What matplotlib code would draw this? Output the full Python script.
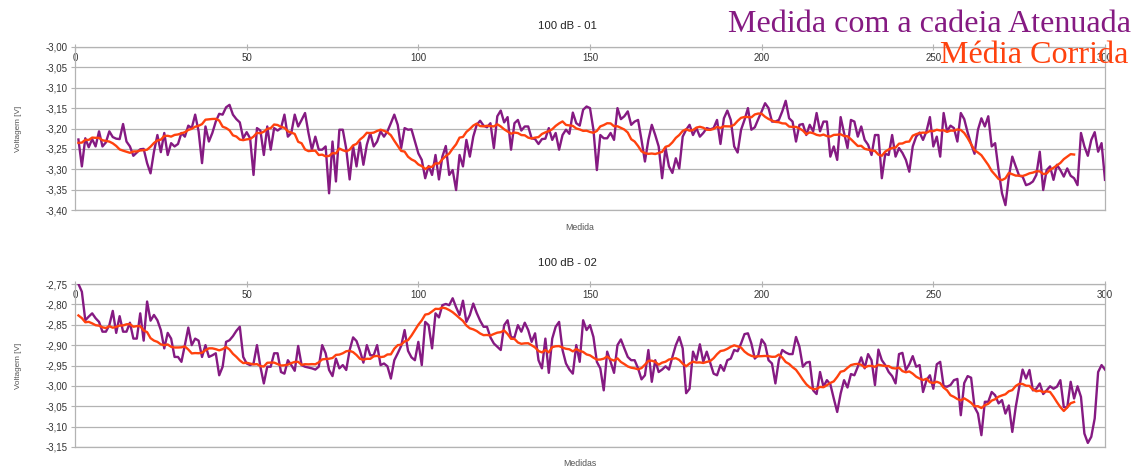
import numpy as np
import pandas as pd
import matplotlib
matplotlib.use("Agg")
import matplotlib.pyplot as plt
from matplotlib.ticker import FuncFormatter, MultipleLocator

plt.rcParams['font.family'] = ['Liberation Sans', 'DejaVu Sans']
plt.rcParams['axes.unicode_minus'] = False

# medidas 1..300, cadeia atenuada (100 dB)
medida = np.arange(1, 301)

v_01 = [
    -3.227, -3.293, -3.224, -3.246, -3.226, -3.244, -3.207, -3.244, -3.234, -3.207,
    -3.221, -3.225, -3.226, -3.189, -3.232, -3.244, -3.267, -3.259, -3.251, -3.250,
    -3.285, -3.310, -3.257, -3.216, -3.258, -3.211, -3.265, -3.236, -3.244, -3.238,
    -3.211, -3.220, -3.193, -3.199, -3.166, -3.207, -3.285, -3.195, -3.232, -3.211,
    -3.183, -3.164, -3.166, -3.148, -3.142, -3.166, -3.177, -3.185, -3.224, -3.209,
    -3.224, -3.314, -3.199, -3.205, -3.265, -3.195, -3.252, -3.199, -3.205, -3.199,
    -3.166, -3.220, -3.211, -3.166, -3.195, -3.179, -3.162, -3.211, -3.252, -3.220,
    -3.252, -3.252, -3.244, -3.359, -3.232, -3.330, -3.203, -3.203, -3.250, -3.325,
    -3.244, -3.293, -3.234, -3.289, -3.240, -3.211, -3.244, -3.232, -3.207, -3.220,
    -3.207, -3.187, -3.166, -3.191, -3.248, -3.199, -3.203, -3.202, -3.232, -3.261,
    -3.277, -3.322, -3.292, -3.314, -3.265, -3.325, -3.269, -3.243, -3.314, -3.302,
    -3.351, -3.265, -3.293, -3.228, -3.269, -3.220, -3.191, -3.181, -3.193, -3.197,
    -3.187, -3.248, -3.170, -3.156, -3.185, -3.172, -3.252, -3.187, -3.179, -3.205,
    -3.195, -3.195, -3.224, -3.226, -3.238, -3.226, -3.225, -3.199, -3.228, -3.211,
    -3.252, -3.216, -3.203, -3.213, -3.161, -3.187, -3.193, -3.154, -3.146, -3.150,
    -3.203, -3.302, -3.216, -3.224, -3.224, -3.211, -3.228, -3.150, -3.177, -3.170,
    -3.158, -3.191, -3.183, -3.179, -3.228, -3.281, -3.228, -3.191, -3.216, -3.244,
    -3.322, -3.248, -3.293, -3.309, -3.273, -3.298, -3.220, -3.203, -3.191, -3.216,
    -3.199, -3.220, -3.211, -3.199, -3.202, -3.199, -3.179, -3.238, -3.175, -3.156,
    -3.179, -3.244, -3.259, -3.203, -3.179, -3.150, -3.203, -3.197, -3.177, -3.158,
    -3.138, -3.150, -3.183, -3.183, -3.179, -3.158, -3.132, -3.175, -3.183, -3.232,
    -3.191, -3.189, -3.216, -3.191, -3.207, -3.162, -3.207, -3.183, -3.183, -3.269,
    -3.244, -3.277, -3.172, -3.211, -3.248, -3.179, -3.183, -3.220, -3.195, -3.228,
    -3.240, -3.265, -3.216, -3.216, -3.322, -3.262, -3.265, -3.216, -3.269, -3.248,
    -3.260, -3.277, -3.306, -3.244, -3.220, -3.210, -3.228, -3.207, -3.172, -3.244,
    -3.220, -3.269, -3.162, -3.207, -3.193, -3.199, -3.232, -3.162, -3.177, -3.210,
    -3.238, -3.262, -3.203, -3.175, -3.195, -3.170, -3.244, -3.236, -3.302, -3.359,
    -3.388, -3.318, -3.269, -3.293, -3.316, -3.318, -3.339, -3.336, -3.330, -3.314,
    -3.257, -3.351, -3.302, -3.293, -3.326, -3.289, -3.302, -3.318, -3.298, -3.316,
    -3.322, -3.339, -3.211, -3.244, -3.267, -3.228, -3.209, -3.257, -3.236, -3.326,
]

v_02 = [
    -2.750, -2.769, -2.839, -2.830, -2.822, -2.834, -2.843, -2.867, -2.867, -2.851,
    -2.816, -2.870, -2.829, -2.867, -2.867, -2.845, -2.884, -2.884, -2.822, -2.889,
    -2.793, -2.840, -2.826, -2.839, -2.863, -2.908, -2.870, -2.884, -2.929, -2.929,
    -2.941, -2.900, -2.857, -2.900, -2.884, -2.889, -2.929, -2.900, -2.929, -2.925,
    -2.920, -2.974, -2.953, -2.892, -2.888, -2.878, -2.865, -2.855, -2.929, -2.945,
    -2.949, -2.945, -2.900, -2.953, -2.994, -2.953, -2.953, -2.920, -2.920, -2.966,
    -2.970, -2.937, -2.949, -2.963, -2.902, -2.949, -2.953, -2.955, -2.957, -2.960,
    -2.953, -2.900, -2.920, -2.961, -2.976, -2.933, -2.957, -2.949, -2.961, -2.912,
    -2.881, -2.890, -2.914, -2.943, -2.900, -2.925, -2.925, -2.900, -2.949, -2.945,
    -2.952, -2.982, -2.937, -2.920, -2.902, -2.863, -2.914, -2.930, -2.937, -2.892,
    -2.949, -2.843, -2.851, -2.908, -2.822, -2.832, -2.802, -2.799, -2.802, -2.785,
    -2.807, -2.826, -2.791, -2.843, -2.826, -2.798, -2.821, -2.840, -2.855, -2.855,
    -2.881, -2.896, -2.904, -2.912, -2.851, -2.839, -2.881, -2.881, -2.851, -2.867,
    -2.845, -2.863, -2.892, -2.871, -2.937, -2.957, -2.884, -2.968, -2.884, -2.855,
    -2.843, -2.912, -2.945, -2.960, -2.970, -2.900, -2.941, -2.839, -2.863, -2.851,
    -2.880, -2.941, -2.957, -3.011, -2.916, -2.941, -2.968, -2.900, -2.886, -2.908,
    -2.929, -2.937, -2.937, -2.957, -2.984, -2.974, -2.912, -2.990, -2.937, -2.966,
    -2.960, -2.952, -2.960, -2.929, -2.900, -2.880, -2.908, -3.018, -3.007, -2.916,
    -2.937, -2.898, -2.941, -2.916, -2.943, -2.970, -2.974, -2.949, -2.963, -2.937,
    -2.933, -2.912, -2.915, -2.896, -2.873, -2.871, -2.896, -2.933, -2.925, -2.886,
    -2.898, -2.937, -2.945, -2.994, -2.937, -2.912, -2.918, -2.922, -2.922, -2.880,
    -2.904, -2.953, -2.943, -2.941, -3.011, -3.020, -2.966, -3.002, -2.986, -2.996,
    -3.031, -3.064, -3.019, -2.986, -3.004, -2.971, -2.974, -2.953, -2.930, -2.957,
    -2.922, -2.937, -2.998, -2.911, -2.937, -2.949, -2.966, -2.976, -2.994, -2.922,
    -2.919, -2.961, -2.947, -2.927, -2.953, -2.949, -3.015, -2.986, -2.974, -3.007,
    -2.947, -2.941, -3.001, -3.002, -2.998, -2.986, -2.983, -3.072, -2.993, -2.976,
    -2.980, -3.052, -3.068, -3.121, -3.039, -3.039, -3.015, -3.023, -3.043, -3.035,
    -3.068, -3.048, -3.113, -3.052, -3.004, -2.960, -2.982, -2.961, -3.011, -3.007,
    -2.994, -3.020, -3.011, -3.001, -3.007, -3.002, -2.986, -3.052, -3.053, -2.990,
    -3.031, -3.001, -3.027, -3.117, -3.140, -3.125, -3.080, -2.966, -2.949, -2.960,
]

titulos = ["100 dB - 01", "100 dB - 02"]
xlabels = ["Medida", "Medidas"]
ylims = [(-3.40, -3.00), (-3.15, -2.75)]
JANELA = 10

ROXO = "#851a82"
LARANJA = "#ff420e"
GRADE = "#b3b3b3"
W, H = 1141, 470


def media_corrida(v, n=JANELA):
    # media das n medidas seguintes, colocada na primeira delas
    return pd.Series(v).rolling(n).mean().shift(-(n - 1)).to_numpy()


fig = plt.figure(figsize=(W / 100, H / 100), dpi=100)
fig.patch.set_facecolor("white")

# (top, bottom) of each plot area in pixels
caixas = [(47, 210), (284, 447)]
left, right = 75, 1105
fmt = FuncFormatter(lambda v, _: f"{v:.2f}".replace(".", ","))

for k, (serie, (top, bot)) in enumerate(zip([v_01, v_02], caixas)):
    ax = fig.add_axes([left / W, 1 - bot / H, (right - left) / W, (bot - top) / H])
    ax.plot(medida, serie, color=ROXO, lw=1.7, zorder=3)
    ax.plot(medida, media_corrida(serie), color=LARANJA, lw=1.7, zorder=4)

    ax.set_xlim(0, 300)
    ax.set_ylim(*ylims[k])
    ax.xaxis.set_major_locator(MultipleLocator(50))
    ax.yaxis.set_major_locator(MultipleLocator(0.05))
    ax.yaxis.set_major_formatter(fmt)
    ax.grid(axis="y", color=GRADE, lw=0.9)
    ax.set_axisbelow(True)
    for s in ax.spines.values():
        s.set_color(GRADE)
        s.set_linewidth(0.9)

    # eixo x cruza no topo, rotulos por baixo da linha
    ax.tick_params(axis="x", bottom=False, labelbottom=False, top=True, labeltop=True,
                   direction="inout", length=5, width=0.8, color=GRADE,
                   labelsize=7, labelcolor="#333333", pad=-14)
    ax.tick_params(axis="y", direction="out", length=3, width=0.8, color=GRADE,
                   labelsize=7, labelcolor="#333333", pad=2)

    fig.text(567 / W, 1 - (top - 21) / H, titulos[k], ha="center", va="center",
             fontsize=8.2, color="#222222")
    fig.text(580 / W, 1 - (bot + 17) / H, xlabels[k], ha="center", va="center",
             fontsize=6.3, color="#555555")
    fig.text(18.5 / W, 1 - ((top + bot) / 2 - 0) / H, "Voltagem [V]", rotation=90,
             ha="center", va="center", fontsize=5.9, color="#555555")

# legenda escrita por cima do grafico
fig.text(1131 / W, 1 - 32 / H, "Medida com a cadeia Atenuada", ha="right", va="baseline",
         fontsize=23.1, family="Liberation Serif", color=ROXO)
fig.text(1128 / W, 1 - 63 / H, "Média Corrida", ha="right", va="baseline",
         fontsize=23.1, family="Liberation Serif", color=LARANJA, zorder=10)

fig.savefig("out.png", dpi=100, facecolor="white")
